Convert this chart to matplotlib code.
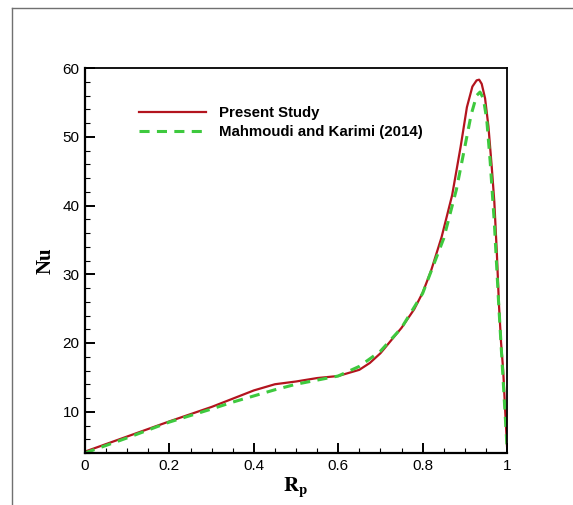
import matplotlib
matplotlib.use("Agg")
import matplotlib.pyplot as plt
from matplotlib.lines import Line2D
from matplotlib.ticker import MultipleLocator

plt.rcParams["font.family"] = ["Liberation Sans", "DejaVu Sans"]
plt.rcParams["mathtext.fontset"] = "stix"

# Nusselt number along the radius - present results
rp_present = [0.0, 0.05, 0.10, 0.20, 0.30, 0.40, 0.45, 0.50, 0.55, 0.60, 0.65,
              0.675, 0.70, 0.75, 0.78, 0.80, 0.82, 0.845, 0.87, 0.89, 0.905,
              0.918, 0.928, 0.934, 0.940, 0.948, 0.956, 0.964, 0.970, 0.976,
              0.981, 0.986, 0.991, 0.995, 1.0]
nu_present = [4.2, 5.3, 6.4, 8.6, 10.7, 13.1, 14.0, 14.4, 14.9, 15.2, 16.1,
              17.1, 18.5, 22.2, 24.9, 27.3, 30.5, 35.4, 41.5, 48.5, 54.3,
              57.3, 58.2, 58.3, 57.7, 55.6, 51.5, 45.5, 40.5, 33.0,
              25.5, 20.0, 16.0, 11.0, 5.0]

# Mahmoudi and Karimi (2014)
rp_ref = [0.0, 0.05, 0.10, 0.20, 0.30, 0.35, 0.40, 0.45, 0.50, 0.55, 0.60,
          0.65, 0.70, 0.75, 0.80, 0.85, 0.88, 0.90, 0.915, 0.928, 0.936,
          0.944, 0.952, 0.96, 0.97, 0.98, 0.99, 1.0]
nu_ref = [4.0, 5.1, 6.2, 8.5, 10.4, 11.4, 12.3, 13.2, 14.0, 14.6, 15.2,
          16.6, 18.8, 22.2, 27.2, 35.2, 42.3, 48.5, 53.2, 56.0, 56.5,
          55.6, 52.5, 46.5, 37.5, 26.0, 15.5, 5.0]

fig = plt.figure(figsize=(5.73, 5.05), dpi=100)
ax = fig.add_axes([85 / 573, 52 / 505, 422 / 573, 385 / 505])

ax.plot(rp_present, nu_present, color="#b3141e", lw=1.6, label="Present Study")
ax.plot(rp_ref, nu_ref, color="#3ec93e", lw=2.2, ls=(0, (3.3, 2.4)),
        label="Mahmoudi and Karimi (2014)")

ax.set_xlim(0, 1)
ax.set_ylim(4, 60)
ax.xaxis.set_minor_locator(MultipleLocator(0.05))
ax.yaxis.set_major_locator(MultipleLocator(10))
ax.yaxis.set_minor_locator(MultipleLocator(2))
ax.set_xticks([0, 0.2, 0.4, 0.6, 0.8, 1.0])
ax.set_xticklabels(["0", "0.2", "0.4", "0.6", "0.8", "1"])
ax.tick_params(which="major", direction="in", length=7, width=1.4,
               labelsize=11, pad=4, top=False, right=False)
ax.tick_params(which="minor", direction="in", length=3.5, width=0.8,
               top=False, right=False)
for side in ["left", "bottom"]:
    ax.spines[side].set_linewidth(1.6)
for side in ["top", "right"]:
    ax.spines[side].set_linewidth(1.3)

ax.set_ylabel("Nu", fontsize=15, fontweight="bold", family="Liberation Serif",
              labelpad=5)
ax.set_xlabel(r"$\mathbf{R_p}$", fontsize=15, labelpad=2)

leg = ax.legend(loc="upper left", bbox_to_anchor=(0.110, 0.92), frameon=False,
                handlelength=4.5, handletextpad=0.85, labelspacing=0.3,
                prop={"weight": "bold", "size": 10.8}, borderpad=0)

# outer frame lines on the figure
fig.add_artist(Line2D([12 / 573, 12 / 573], [0, 1 - 8 / 505],
                      transform=fig.transFigure, color="#707070", lw=1.0))
fig.add_artist(Line2D([12 / 573, 1], [1 - 8 / 505, 1 - 8 / 505],
                      transform=fig.transFigure, color="#707070", lw=1.0))

fig.savefig("out.png", dpi=100)
